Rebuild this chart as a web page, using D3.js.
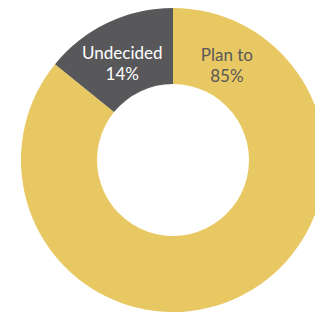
<!DOCTYPE html>
<html><head><meta charset="utf-8">
<script src="https://cdn.jsdelivr.net/npm/d3@7"></script>
<style>html,body{margin:0;padding:0;background:#fff;overflow:hidden}</style>
</head><body>
<svg id="c" width="315" height="312"></svg>
<script>
const categories = ["Plan to", "Undecided"];
const values = [85, 14];
const labels = ["85%", "14%"];
const colors = ["#E8C862", "#58585A"];
const textColors = ["#595959", "#ffffff"];

const svg = d3.select("#c");
const cx = 173, cy = 160, outerR = 152, innerR = 76;
const g = svg.append("g").attr("transform", `translate(${cx},${cy})`);

const pie = d3.pie().sort(null).value(d => d)(values);
const arc = d3.arc().innerRadius(innerR).outerRadius(outerR);

g.selectAll("path").data(pie).join("path")
  .attr("d", arc).attr("fill", (d, i) => colors[i]);

// label placement: Undecided at its mid-angle, Plan to mirrored across vertical axis
const und = pie[1];
const undMid = (und.startAngle + und.endAngle) / 2;
const labR = 118;
const angles = [2 * Math.PI - undMid + 0.03, undMid];
angles.forEach((a, i) => {
  const x = labR * Math.sin(a), y = -labR * Math.cos(a);
  const t = g.append("text").attr("text-anchor", "middle")
    .attr("font-family", "Lato, 'Open Sans', sans-serif")
    .attr("font-size", 17).attr("fill", textColors[i]);
  t.append("tspan").attr("x", x).attr("y", y + 6).text(categories[i]);
  t.append("tspan").attr("x", x).attr("y", y + 27).text(labels[i]);
});
</script>
</body></html>
